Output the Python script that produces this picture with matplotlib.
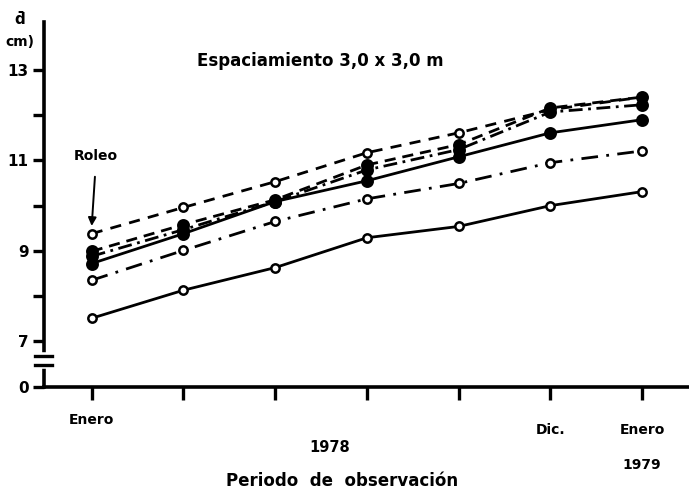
import matplotlib
matplotlib.use("Agg")
import matplotlib.pyplot as plt
from matplotlib.lines import Line2D

# Observation dates (7 measurements, Jan 1978 - Jan 1979)
periods = [0, 1, 2, 3, 4, 5, 6]
period_labels = ["Enero", "", "", "", "", "Dic.", "Enero"]

# Mean diameter (cm) for each treatment
dashed_open = [9.38, 9.96, 10.53, 11.17, 11.61, 12.12, 12.40]
dashed_filled = [8.99, 9.58, 10.13, 10.90, 11.35, 12.16, 12.40]
dashdot_filled = [8.88, 9.47, 10.09, 10.79, 11.24, 12.07, 12.23]
solid_filled = [8.72, 9.38, 10.09, 10.55, 11.08, 11.61, 11.90]
dashdot_open = [8.35, 9.01, 9.65, 10.15, 10.49, 10.95, 11.21]
solid_open = [7.51, 8.13, 8.63, 9.29, 9.54, 10.00, 10.31]

y_ticks = [7, 8, 9, 10, 11, 12, 13]
y_tick_labels = ["7", "", "9", "", "11", "", "13"]

plt.rcParams["font.family"] = ["DejaVu Sans"]
plt.rcParams["font.weight"] = "bold"

fig = plt.figure(figsize=(6.89, 4.96), dpi=100)
ax = fig.add_axes([44 / 689, 109 / 496, 645 / 689, 365 / 496])

lw = 2.0
series = [
    (dashed_open, (0, (4, 3)), "white"),
    (dashed_filled, (0, (4, 2.5)), "black"),
    (dashdot_filled, (0, (5, 2, 1, 2)), "black"),
    (solid_filled, "-", "black"),
    (dashdot_open, (0, (6, 3, 1, 3)), "white"),
    (solid_open, "-", "white"),
]
for vals, ls, face in series:
    size = 7.5 if face == "black" else 6.0
    ax.plot(periods, vals, color="black", linestyle=ls, linewidth=lw,
            marker="o", markersize=size, markerfacecolor=face,
            markeredgecolor="black", markeredgewidth=1.8, zorder=3)

# Axis limits: lower part of the axis is broken down to 0
y_zero = 5.99
ax.set_xlim(-0.52, 6.51)
ax.set_ylim(y_zero, 14.06)

for side in ("top", "right"):
    ax.spines[side].set_visible(False)
for side in ("left", "bottom"):
    ax.spines[side].set_linewidth(2.6)

ax.set_xticks(periods)
ax.set_xticklabels(period_labels, fontsize=10, fontweight="bold")
ax.tick_params(axis="x", direction="out", length=9, width=2.4, pad=10)
for lab in ax.get_xticklabels()[5:]:
    lab.set_y(-0.025)

ax.set_yticks(y_ticks + [y_zero])
ax.set_yticklabels(y_tick_labels + ["0"], fontsize=11, fontweight="bold")
ax.tick_params(axis="y", direction="out", length=8, width=2.4, pad=3)

# Axis break marks between 0 and 7
trans = ax.get_yaxis_transform()
ax.add_line(Line2D([0, 0], [6.45, 6.70], transform=trans, color="white",
                   linewidth=4, clip_on=False, zorder=5))
for yb in (6.47, 6.68):
    ax.add_line(Line2D([-0.014, 0.012], [yb, yb], transform=trans,
                       color="black", linewidth=2.4, clip_on=False, zorder=6))

# Axis unit label
fig.text(20 / 689, 1 - 20 / 496, "d\u0304", ha="center", va="center",
         fontsize=11, fontweight="bold")
fig.text(20 / 689, 1 - 42 / 496, "cm)", ha="center", va="center",
         fontsize=10, fontweight="bold")

ax.text(2.49, 13.2, "Espaciamiento 3,0 x 3,0 m", ha="center", va="center",
        fontsize=12, fontweight="bold")

ax.annotate("Roleo", xy=(0, 9.55), xytext=(0.05, 11.1),
            ha="center", va="center", fontsize=10, fontweight="bold",
            arrowprops=dict(arrowstyle="-|>", color="black", lw=1.4,
                            shrinkA=8, shrinkB=0, mutation_scale=12))

fig.text(330 / 689, 1 - 448 / 496, "1978", ha="center", va="center",
         fontsize=10.5, fontweight="bold")
fig.text(642 / 689, 1 - 465 / 496, "1979", ha="center", va="center",
         fontsize=10, fontweight="bold")
fig.text(342 / 689, 1 - 481 / 496, "Periodo  de  observación", ha="center",
         va="center", fontsize=12, fontweight="bold")

fig.savefig("out.png", dpi=100, facecolor="white")
